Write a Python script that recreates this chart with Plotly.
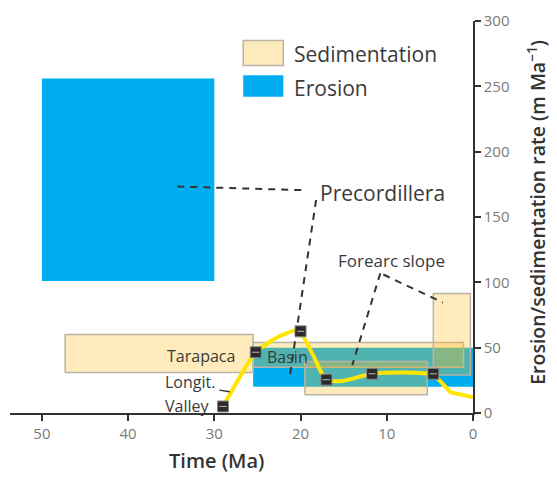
import plotly.graph_objects as go

# --- Erosion windows (age span in Ma, rate span in m/Ma) ---
ero_age_old = [50.0, 25.5]
ero_age_young = [30.0, 0.0]
ero_rate_low = [101.0, 20.0]
ero_rate_high = [256.0, 50.0]

# --- Sedimentation windows ---
sed_age_old = [47.3, 25.5, 19.5, 4.6]
sed_age_young = [25.5, 1.1, 5.3, 0.3]
sed_rate_low = [31.0, 35.0, 14.0, 29.0]
sed_rate_high = [60.0, 54.0, 39.5, 91.5]

# --- Rate curve and sampled points ---
curve_age = [29.0, 27.0, 25.2, 22.5, 20.3, 18.6, 17.0, 15.2, 11.7, 8.0, 4.6]
curve_rate = [5.0, 28.0, 46.5, 58.5, 63.0, 45.0, 25.5, 24.5, 30.0, 31.0, 30.0]
tail_age = [4.6, 2.6, 0.0]
tail_rate = [30.0, 16.0, 12.0]
sample_age = [29.0, 25.2, 20.0, 17.0, 11.7, 4.6]
sample_rate = [5.0, 46.5, 62.5, 25.5, 30.0, 30.0]

x_ticks = [0, 10, 20, 30, 40, 50]
y_ticks = [0, 50, 100, 150, 200, 250, 300]

BLUE = "#00AEEF"
TAN_FILL = "rgba(255,189,34,0.31)"
TAN_EDGE = "#b9b4a6"
YELLOW = "#FFE500"
FONT = "Open Sans"


def box(x0, x1, y0, y1):
    return [x0, x1, x1, x0, x0], [y0, y0, y1, y1, y0]


fig = go.Figure()

for a, b, lo, hi in zip(ero_age_old, ero_age_young, ero_rate_low, ero_rate_high):
    xs, ys = box(a, b, lo, hi)
    fig.add_trace(go.Scatter(x=xs, y=ys, fill="toself", fillcolor=BLUE,
                             mode="lines", line=dict(width=0, color=BLUE),
                             hoverinfo="skip", showlegend=False))

for a, b, lo, hi in zip(sed_age_old, sed_age_young, sed_rate_low, sed_rate_high):
    xs, ys = box(a, b, lo, hi)
    fig.add_trace(go.Scatter(x=xs, y=ys, fill="toself", fillcolor=TAN_FILL,
                             mode="lines", line=dict(width=1.5, color=TAN_EDGE),
                             hoverinfo="skip", showlegend=False))

fig.add_trace(go.Scatter(x=curve_age, y=curve_rate, mode="lines",
                         line=dict(color=YELLOW, width=4, shape="spline", smoothing=0.8),
                         hoverinfo="skip", showlegend=False))
fig.add_trace(go.Scatter(x=tail_age, y=tail_rate, mode="lines",
                         line=dict(color=YELLOW, width=4),
                         hoverinfo="skip", showlegend=False))
fig.add_trace(go.Scatter(x=sample_age, y=sample_rate, mode="markers",
                         marker=dict(symbol="square", size=11, color="#2b2b2b",
                                     line=dict(color="#8a8a8a", width=1)),
                         hoverinfo="skip", showlegend=False))
fig.add_trace(go.Scatter(x=sample_age, y=sample_rate, mode="markers",
                         marker=dict(symbol="line-ew", size=5,
                                     line=dict(color="#bbbbbb", width=1)),
                         hoverinfo="skip", showlegend=False))

dash = dict(color="#333333", width=2, dash="7px,6px")
shapes = [
    # Precordillera leaders
    dict(type="line", x0=34.3, y0=173.3, x1=19.5, y1=170.5, line=dash),
    dict(type="line", x0=18.2, y0=163.0, x1=21.3, y1=26.0, line=dash),
    # Forearc slope leaders
    dict(type="line", x0=10.75, y0=107.0, x1=14.0, y1=36.5, line=dash),
    dict(type="line", x0=10.4, y0=106.0, x1=3.5, y1=84.5, line=dash),
    # Longit. Valley tick
    dict(type="line", x0=29.4, y0=17.5, x1=28.2, y1=16.2,
         line=dict(color="#333333", width=1.5)),
    # legend swatches
    dict(type="rect", x0=26.65, x1=22.0, y0=266, y1=285,
         fillcolor="#FEEBBB", line=dict(color=TAN_EDGE, width=1.5)),
    dict(type="rect", x0=26.65, x1=22.0, y0=242, y1=258.5,
         fillcolor=BLUE, line=dict(width=0)),
]

txt = "#3a3a3a"
annotations = [
    dict(x=17.95, y=168.5, text="Precordillera", font=dict(size=21, color=txt)),
    dict(x=15.86, y=116.5, text="Forearc slope", font=dict(size=17, color=txt)),
    dict(x=35.7, y=44.0, text="Tarapaca", font=dict(size=16, color=txt)),
    dict(x=24.1, y=43.2, text="Basin", font=dict(size=16, color=txt)),
    dict(x=36.0, y=23.6, text="Longit.", font=dict(size=16, color=txt)),
    dict(x=36.0, y=5.5, text="Valley", font=dict(size=16, color=txt)),
    dict(x=20.96, y=274.5, text="Sedimentation", font=dict(size=21, color=txt)),
    dict(x=20.96, y=249.0, text="Erosion", font=dict(size=21, color=txt)),
]
for a in annotations:
    a.update(xref="x", yref="y", xanchor="left", yanchor="middle", showarrow=False)
    a["font"]["family"] = FONT

# axis titles
annotations.append(dict(
    xref="paper", yref="paper", x=1.138, y=0.513, textangle=-90,
    text="Erosion/sedimentation rate (m Ma<sup>\u22121</sup>)",
    showarrow=False, xanchor="center", yanchor="middle",
    font=dict(family=FONT, size=19.5, color="#333333", weight=600)))
annotations.append(dict(
    xref="paper", yref="paper", x=0.447, y=-0.122, text="Time (Ma)",
    showarrow=False, xanchor="center", yanchor="middle",
    font=dict(family=FONT, size=20, color="#333333", weight=600)))

fig.update_layout(
    width=557, height=479,
    margin=dict(l=10, r=84, t=15, b=66),
    paper_bgcolor="white", plot_bgcolor="white",
    shapes=shapes, annotations=annotations,
    font=dict(family=FONT),
    xaxis=dict(range=[53.7, 0], tickvals=x_ticks, ticks="outside", ticklen=6,
               tickwidth=1.5, tickcolor="#333", showline=True, linecolor="#333",
               linewidth=1.5, showgrid=False, zeroline=False,
               tickfont=dict(size=15, color="#7a7a7a")),
    yaxis=dict(range=[0, 300], tickvals=y_ticks, side="right", ticks="outside",
               ticklen=6, tickwidth=1.5, tickcolor="#333", showline=True,
               linecolor="#333", linewidth=1.5, showgrid=False, zeroline=False,
               tickfont=dict(size=15, color="#7a7a7a")),
)

fig.write_html("out.html")
